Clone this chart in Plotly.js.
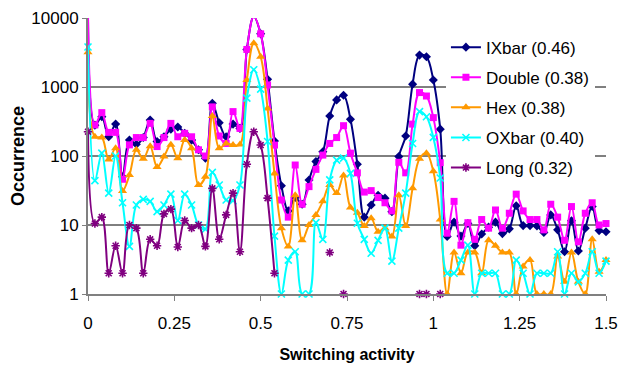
<!DOCTYPE html>
<html>
<head>
<meta charset="utf-8">
<script src="https://cdn.plot.ly/plotly-3.0.1.min.js"></script>
<style>
html,body{margin:0;padding:0;background:#fff;}
#chart{width:619px;height:367px;}
</style>
</head>
<body>
<div id="chart"></div>
<script>
// Switching activity (x)
const activity = [0,0.02,0.04,0.06,0.08,0.1,0.12,0.14,0.16,0.18,0.2,0.22,0.24,0.26,0.28,0.3,0.32,0.34,0.36,0.38,
  0.4,0.42,0.44,0.46,0.48,0.5,0.52,0.54,0.56,0.58,0.6,0.62,0.64,0.66,0.68,0.7,0.72,0.74,0.76,0.78,
  0.8,0.82,0.84,0.86,0.88,0.9,0.92,0.94,0.96,0.98,1,1.02,1.04,1.06,1.08,1.1,1.12,1.14,1.16,1.18,
  1.2,1.22,1.24,1.26,1.28,1.3,1.32,1.34,1.36,1.38,1.4,1.42,1.44,1.46,1.48,1.5];

const ixbar = [11000,280,370,190,290,50,170,148,185,333,162,190,245,263,213,170,123,93,580,303,
  190,290,251,3500,10500,5900,1290,165,37,16,25,20,45,83,115,380,650,760,340,76,
  13,19.5,27,24.5,15.6,98,195,1100,2900,2750,1260,245,6.8,11,6.9,10.5,5,7.4,9.3,11,
  7.5,8.8,19,9.8,9.8,9.7,7.8,14,8.5,4.1,11.5,4.2,9,18.5,8.3,8];

const double_ = [11000,282,425,220,220,46,145,185,185,297,137,185,297,190,213,190,123,100,515,195,
  152,440,251,3500,10500,5900,1070,144,23,13,74,20,36,64,103,152,185,275,110,57,
  30,31.5,25,21,16,81,57,290,830,740,360,80,7.6,22,5.1,10.8,6.2,12,9,16.5,
  9,14.8,28,16,12,12,8.5,20,13,6,18.5,5.7,14.8,21,10,10.5];

const hex = [3200,190,186,89,130,31,53,123,91,138,69,98,145,93,170,129,38,50,380,129,
  152,144,147,1260,4300,2750,490,56,9,4.9,27,6,10,14,22,38,29,52,18,15,
  9.7,12.5,8,9,6.8,27,9.7,34,91,110,60,12,1,4,2,4,4,2,6,5,
  4,4,1,2.5,3.1,1,1,1,3.5,1.5,4,1.5,1,6.2,2.1,3.1];

const oxbar = [3800,44,110,29,100,21,4.9,19.5,23.5,22,15.6,19.5,28,11.6,28,19.5,10,8.7,58,38,
  23,22.5,38,690,1780,930,162,6.9,1,3.1,4.1,1,1,10.8,6.2,45,87,93,56,10.6,
  6.2,3.9,6,9,3,9,29,152,440,370,186,48,2,2,3.1,5.1,1,2,2,2,
  1,1,3.1,2,1,2,2,2,4.1,1,2,1.5,2,4.1,2,3];

const long_ = [225,10.5,13,2,5,2,10,9,2,6.2,5,14.5,17,4.8,11.6,9,10,4.9,34,6.2,
  14,29,4.1,76,225,144,24.5,2,null,null,null,null,null,null,null,4,null,1,null,null,
  null,null,null,null,null,null,null,null,1,1,null,1,null,null,null,null,null,null,null,null,
  null,null,null,null,null,null,null,null,null,null,null,null,null,null,null,null];

const seriesNames = ['IXbar (0.46)','Double (0.38)','Hex (0.38)','OXbar (0.40)','Long (0.32)'];
const seriesData = [ixbar, double_, hex, oxbar, long_];
const seriesColors = ['#000080','#FF00FF','#FF9900','#00FFFF','#800080'];
const seriesSymbols = ['diamond','square','triangle-up','x-thin-open','asterisk-open'];
const seriesSizes = [7,7,8,7,7];

const xTickVals = [0,0.25,0.5,0.75,1,1.25,1.5];
const xTickText = ['0','0.25','0.5','0.75','1','1.25','1.5'];
const yTickVals = [1,10,100,1000,10000];
const yTickText = ['1','10','100','1000','10000'];
const yGridVals = [10,100,1000];
const yLogRange = [0,4];

const FONT = 'Liberation Sans, Arial, sans-serif';

const traces = seriesData.map((ys,k)=>({
  type:'scatter', mode:'lines+markers', name:seriesNames[k],
  x:activity, y:ys, connectgaps:false, cliponaxis:false,
  legendgroup:'g'+k,
  line:{color:seriesColors[k], width:2, shape:'spline', smoothing:1},
  marker:{symbol:seriesSymbols[k], size:seriesSizes[k], color:seriesColors[k],
          line:{color:seriesColors[k], width:(k>=3?1.6:0)}}
}));

const shapes = yGridVals.map(v=>{
  const f=(Math.log10(v)-yLogRange[0])/(yLogRange[1]-yLogRange[0]);
  return {type:'line', xref:'paper', yref:'y domain', x0:0, x1:1, y0:f, y1:f,
          line:{color:'#000', width:1}, layer:'below'};
});

const layout = {
  width:619, height:367,
  margin:{l:88, r:13, t:18, b:73},
  paper_bgcolor:'#fff', plot_bgcolor:'#fff',
  font:{family:FONT, size:17, color:'#000'},
  showlegend:true,
  legend:{x:0.691, xanchor:'left', y:0.958, yanchor:'top', bgcolor:'#fff',
          borderwidth:0, font:{family:FONT, size:17, color:'#000'},
          tracegroupgap:5, traceorder:'grouped'},
  xaxis:{range:[0,1.5], tickmode:'array', tickvals:xTickVals, ticktext:xTickText,
         ticks:'outside', ticklen:5, tickwidth:1, tickcolor:'#808080',
         showline:true, linecolor:'#808080', linewidth:2, showgrid:false, zeroline:false,
         ticklabelstandoff:8,
         tickfont:{family:FONT, size:17, color:'#000'},
         title:{text:'<b>Switching activity</b>', font:{family:FONT, size:16, color:'#000'}, standoff:16}},
  yaxis:{type:'log', range:yLogRange, tickmode:'array', tickvals:yTickVals, ticktext:yTickText,
         ticks:'outside', ticklen:4, tickwidth:1, tickcolor:'#808080',
         showline:true, linecolor:'#808080', linewidth:2, showgrid:false, zeroline:false,
         tickfont:{family:FONT, size:17, color:'#000'},
         title:{text:'<b>Occurrence</b>', font:{family:FONT, size:18, color:'#000'}, standoff:2}},
  shapes:shapes
};

Plotly.newPlot('chart', traces, layout, {staticPlot:true, displayModeBar:false});
</script>
</body>
</html>
